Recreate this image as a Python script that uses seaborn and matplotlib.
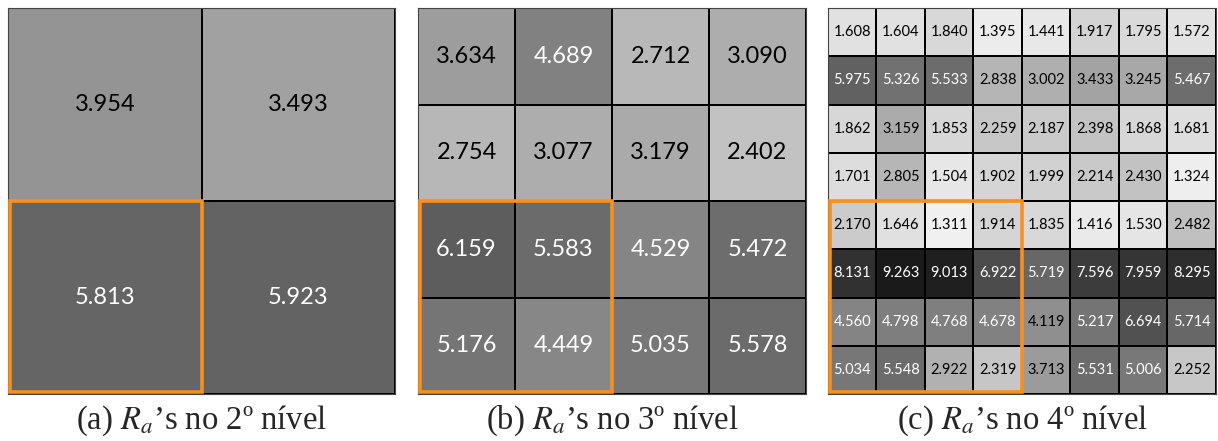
import numpy as np
import matplotlib.pyplot as plt
import seaborn as sns
from matplotlib.colors import ListedColormap
from matplotlib.patches import Rectangle

# R_a values per level
level2 = [
    [3.954, 3.493],
    [5.813, 5.923],
]
level3 = [
    [3.634, 4.689, 2.712, 3.090],
    [2.754, 3.077, 3.179, 2.402],
    [6.159, 5.583, 4.529, 5.472],
    [5.176, 4.449, 5.035, 5.578],
]
level4 = [
    [1.608, 1.604, 1.840, 1.395, 1.441, 1.917, 1.795, 1.572],
    [5.975, 5.326, 5.533, 2.838, 3.002, 3.433, 3.245, 5.467],
    [1.862, 3.159, 1.853, 2.259, 2.187, 2.398, 1.868, 1.681],
    [1.701, 2.805, 1.504, 1.902, 1.999, 2.214, 2.430, 1.324],
    [2.170, 1.646, 1.311, 1.914, 1.835, 1.416, 1.530, 2.482],
    [8.131, 9.263, 9.013, 6.922, 5.719, 7.596, 7.959, 8.295],
    [4.560, 4.798, 4.768, 4.678, 4.119, 5.217, 6.694, 5.714],
    [5.034, 5.548, 2.922, 2.319, 3.713, 5.531, 5.006, 2.252],
]
captions = [
    "(a) $R_a$\u2019s no 2\u00ba n\u00edvel",
    "(b) $R_a$\u2019s no 3\u00ba n\u00edvel",
    "(c) $R_a$\u2019s no 4\u00ba n\u00edvel",
]

sns.set_theme(style="white")
plt.rcParams["font.family"] = ["Lato", "DejaVu Sans"]
plt.rcParams["mathtext.fontset"] = "stix"

# grey ramp, a bit stretched at the light end
cmap = ListedColormap(plt.get_cmap("gray_r")(np.linspace(0, 1, 256) ** 0.72))

fig = plt.figure(figsize=(12.18, 4.41), dpi=100)
W, H = 1218, 441
boxes = [(8, 395), (418, 806), (828, 1216)]
top, bottom = 8, 394
font_sizes = [17, 17, 10.5]
orange = "#f7901e"

for vals, (x0, x1), fs, cap in zip([level2, level3, level4], boxes, font_sizes, captions):
    ax = fig.add_axes([x0 / W, 1 - bottom / H, (x1 - x0) / W, (bottom - top) / H])
    data = np.array(vals)
    sns.heatmap(data, ax=ax, cmap=cmap, vmin=1.1, vmax=10.6, annot=True, fmt=".3f",
                cbar=False, linewidths=1.2, linecolor="black",
                xticklabels=False, yticklabels=False, annot_kws={"fontsize": fs})
    for t in ax.texts:
        t.set_color("black" if float(t.get_text()) < 4.3 else "white")
    for s in ax.spines.values():
        s.set_visible(True)
        s.set_color("#444444")
        s.set_linewidth(0.8)

    n = data.shape[0]
    half = n / 2
    inset = 2.0 / ((x1 - x0) / n)
    ax.add_patch(Rectangle((inset, half), half - inset, half - inset, fill=False,
                           edgecolor=orange, lw=2.6, zorder=5, clip_on=False))

    fig.text((x0 + x1) / 2 / W, 1 - 421 / H, cap, ha="center", va="center",
             fontsize=23.5, family=["Liberation Serif", "DejaVu Serif"])

plt.savefig("out.png", dpi=100)
